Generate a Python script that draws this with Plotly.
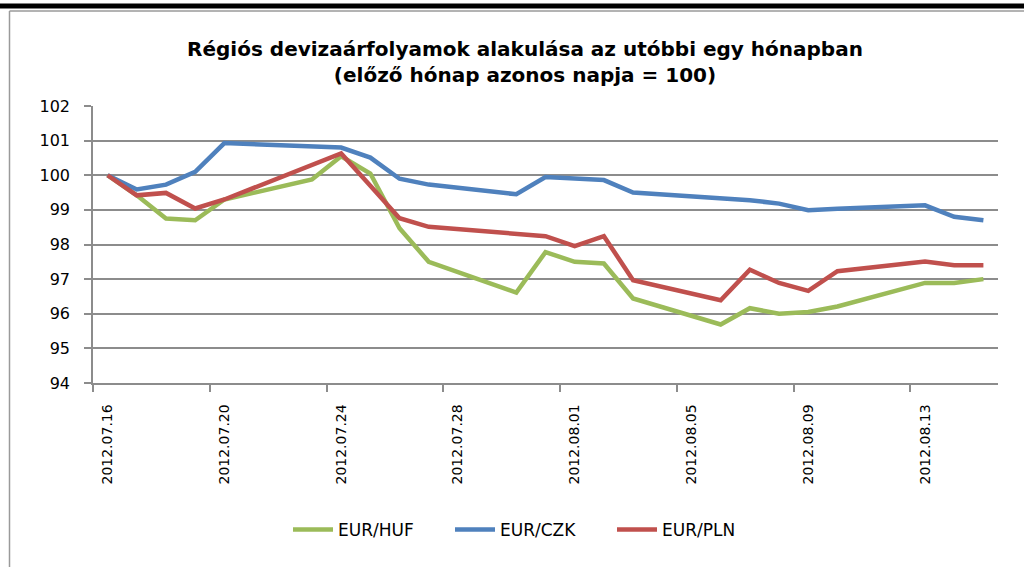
import plotly.graph_objects as go

dates = ["2012-07-16", "2012-07-17", "2012-07-18", "2012-07-19", "2012-07-20",
         "2012-07-23", "2012-07-24", "2012-07-25", "2012-07-26", "2012-07-27",
         "2012-07-30", "2012-07-31", "2012-08-01", "2012-08-02", "2012-08-03",
         "2012-08-06", "2012-08-07", "2012-08-08", "2012-08-09", "2012-08-10",
         "2012-08-13", "2012-08-14", "2012-08-15"]

eur_huf = [100, 99.42, 98.75, 98.70, 99.30, 99.88, 100.55, 100.05, 98.47, 97.50,
           96.61, 97.78, 97.50, 97.45, 96.44, 95.69, 96.16, 96.00, 96.05, 96.21,
           96.89, 96.89, 97.00]
eur_czk = [100, 99.59, 99.73, 100.10, 100.93, 100.85, 100.80, 100.51, 99.90, 99.73,
           99.45, 99.95, 99.90, 99.86, 99.50, 99.33, 99.28, 99.18, 98.99, 99.03,
           99.13, 98.80, 98.70]
eur_pln = [100, 99.42, 99.49, 99.04, 99.30, 100.30, 100.63, 99.70, 98.76, 98.51,
           98.29, 98.24, 97.95, 98.24, 96.97, 96.39, 97.27, 96.89, 96.66, 97.23,
           97.51, 97.40, 97.40]

series_names = ["EUR/HUF", "EUR/CZK", "EUR/PLN"]
series_colors = ["#9BBB59", "#4F81BD", "#C0504D"]

tick_dates = ["2012-07-16", "2012-07-20", "2012-07-24", "2012-07-28",
              "2012-08-01", "2012-08-05", "2012-08-09", "2012-08-13"]
tick_labels = ["2012.07.16", "2012.07.20", "2012.07.24", "2012.07.28",
               "2012.08.01", "2012.08.05", "2012.08.09", "2012.08.13"]
tick_marks = ["2012-07-15 12:00", "2012-07-19 12:00", "2012-07-23 12:00",
              "2012-07-27 12:00", "2012-07-31 12:00", "2012-08-04 12:00",
              "2012-08-08 12:00", "2012-08-12 12:00"]

FONT = "DejaVu Sans"
GRID = "#8C8C8C"

fig = go.Figure()
for name, vals, col in zip(series_names, [eur_huf, eur_czk, eur_pln], series_colors):
    fig.add_trace(go.Scatter(x=dates, y=vals, name=name, mode="lines",
                             line=dict(color=col, width=4.5)))

# plot area in pixels: x 93..998, y 106..383
L, R, T, B = 93, 998, 106, 383
W, H = 1024, 567


def px(xp):
    return (xp - L) / (R - L)


def py(yp):
    return (B - yp) / (B - T)


shapes = [
    dict(type="line", xref="paper", yref="paper", x0=px(0), x1=px(1024),
         y0=py(6), y1=py(6), line=dict(color="black", width=5)),
    dict(type="line", xref="paper", yref="paper", x0=px(9.5), x1=px(1024),
         y0=py(11), y1=py(11), line=dict(color="#9A9A9A", width=1.5)),
    dict(type="line", xref="paper", yref="paper", x0=px(9.5), x1=px(9.5),
         y0=py(11), y1=py(567), line=dict(color="#9A9A9A", width=1.5)),
]

fig.update_layout(
    width=W, height=H,
    margin=dict(l=L, r=W - R, t=T, b=H - B),
    paper_bgcolor="white", plot_bgcolor="white",
    font=dict(family=FONT, color="black"),
    title=dict(text="<b>Régiós devizaárfolyamok alakulása az utóbbi egy hónapban<br>(előző hónap azonos napja = 100)</b>",
               x=(525) / W, xanchor="center", y=1 - 56 / H, yanchor="middle",
               font=dict(family=FONT, size=20, color="black")),
    showlegend=True,
    legend=dict(orientation="h", x=px(531), xanchor="center", y=py(530), yanchor="middle",
                font=dict(family=FONT, size=17, color="black"),
                entrywidth=107, entrywidthmode="pixels", itemwidth=40,
                bgcolor="rgba(0,0,0,0)"),
    shapes=shapes,
)

fig.update_xaxes(
    type="date", range=["2012-07-15 12:00", "2012-08-15 12:00"],
    tickmode="array", tickvals=tick_dates, ticktext=tick_labels,
    tickangle=-90, ticks="", ticklabelstandoff=14,
    tickfont=dict(family=FONT, size=14, color="black"),
    showgrid=False, zeroline=False,
    showline=True, linecolor=GRID, linewidth=1.5,
    minor=dict(tickmode="array", tickvals=tick_marks, ticks="outside",
               ticklen=7, tickwidth=1.5, tickcolor=GRID, showgrid=False),
)

fig.update_yaxes(
    range=[94, 102], tickmode="linear", tick0=94, dtick=1,
    ticks="outside", ticklen=7, tickwidth=1.5, tickcolor=GRID,
    ticklabelstandoff=11,
    tickfont=dict(family=FONT, size=16, color="black"),
    showgrid=True, gridcolor=GRID, gridwidth=1.5, zeroline=False,
    showline=True, linecolor=GRID, linewidth=1.5,
)

fig.write_html("out.html", config={"displayModeBar": False},
               post_script="document.body.style.margin='0';document.body.style.overflow='hidden';")
